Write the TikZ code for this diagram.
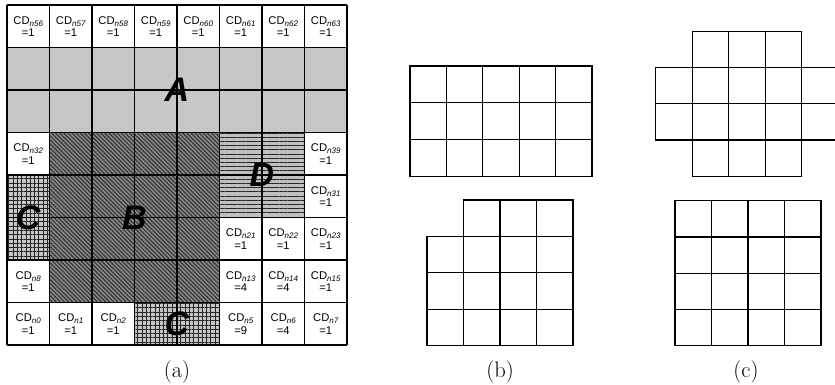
\documentclass[tikz,border=0pt]{standalone}
\usepackage{fontspec}
\newfontfamily\arialf{Liberation Sans}
\usetikzlibrary{patterns.meta}
\newcommand{\cdlab}[2]{CD\raisebox{-0.35ex}{\fontsize{8}{8}\selectfont\itshape n#1}\\[-0.5pt]=#2}
\begin{document}
\begin{tikzpicture}[x=1pt,y=-1pt,
  cellline/.style={line width=1.1pt},
  cdtext/.style={font=\arialf\fontsize{11.2}{13}\selectfont, align=center, inner sep=0pt},
  biglab/.style={font=\arialf\bfseries\itshape\fontsize{34}{36}\selectfont, inner sep=0pt},
  captext/.style={font=\fontsize{22.5}{26}\selectfont, anchor=base, inner sep=0pt},
  gcell/.style={draw, line width=1.1pt}]
\useasboundingbox (0,0) rectangle (835,385);
% ---- (a) regions ----
% A
\fill[gray!36] (7,47.5) rectangle (347,132.5);
\fill[pattern={Dots[distance=2pt,radius=0.5pt]}, pattern color=gray!90] (7,47.5) rectangle (347,132.5);
% B
\fill[black!45] (49.5,132.5) rectangle (219.5,302.5);
\fill[pattern={Lines[angle=-45,distance=2.9pt,line width=1.2pt]}, pattern color=black!80] (49.5,132.5) rectangle (219.5,302.5);
% D
\fill[gray!50] (219.5,132.5) rectangle (304.5,217.5);
\fill[pattern={Lines[angle=0,distance=4.2pt,line width=0.6pt]}, pattern color=black!85] (219.5,132.5) rectangle (304.5,217.5);
% C
\foreach \ra/\rb in {{7,175}/{49.5,260},{134.5,302.5}/{219.5,345}}{
  \fill[gray!45] (\ra) rectangle (\rb);
  \fill[pattern={Hatch[angle=0,distance=4.3pt,line width=0.55pt]}, pattern color=black!85] (\ra) rectangle (\rb);
}
% grid lines
\foreach \i in {0,...,8}{
  \draw[cellline] ({7+42.5*\i},5) -- ({7+42.5*\i},345);
  \draw[cellline] (7,{5+42.5*\i}) -- (347,{5+42.5*\i});
}
% cell texts
\foreach \c/\r/\n/\v in {0/0/56/1,1/0/57/1,2/0/58/1,3/0/59/1,4/0/60/1,5/0/61/1,6/0/62/1,7/0/63/1,
  0/3/32/1,7/3/39/1,7/4/31/1,5/5/21/1,6/5/22/1,7/5/23/1,
  0/6/8/1,5/6/13/4,6/6/14/4,7/6/15/1,
  0/7/0/1,1/7/1/1,2/7/2/1,5/7/5/9,6/7/6/4,7/7/7/1}{
  \node[cdtext] (cd\n) at ({7+42.5*\c+21.25},{5+42.5*\r+21.5}) {\cdlab{\n}{\v}};
}
% big labels
\node[biglab] (labA) at (177,90) {A};
\node[biglab] (labB) at (134.5,217.5) {B};
\node[biglab] (labD) at (262,175) {D};
\node[biglab] (labC1) at (28.25,217.5) {C};
\node[biglab] (labC2) at (177,323.75) {C};
% ---- (b) ----
\foreach \c in {0,...,4}{\foreach \r in {0,1,2}{
  \draw[gcell] ({410+36.4*\c},{66+36.7*\r}) rectangle ++(36.4,36.7);
}}
\foreach \c/\r in {1/0,2/0,3/0,0/1,1/1,2/1,3/1,0/2,1/2,2/2,3/2,0/3,1/3,2/3,3/3}{
  \draw[gcell] ({427+36.5*\c},{200+36.45*\r}) rectangle ++(36.5,36.45);
}
% ---- (c) ----
\foreach \c/\r in {1/0,2/0,3/0,0/1,1/1,2/1,3/1,0/2,1/2,2/2,3/2,1/3,2/3,3/3}{
  \draw[gcell] ({655.7+36.5*\c},{31.7+36.1*\r}) rectangle ++(36.5,36.1);
}
\draw[gcell] (801.7,67.8) -- (835,67.8) (801.7,103.9) -- (835,103.9) (801.7,140) -- (835,140);
\foreach \c in {0,...,3}{\foreach \r in {0,...,3}{
  \draw[gcell] ({675+36.5*\c},{200.7+36.25*\r}) rectangle ++(36.5,36.25);
}}
% captions
\node[captext] (capa) at (177,377) {(a)};
\node[captext] (capb) at (500,377) {(b)};
\node[captext] (capc) at (746,377) {(c)};
\end{tikzpicture}
\end{document}
